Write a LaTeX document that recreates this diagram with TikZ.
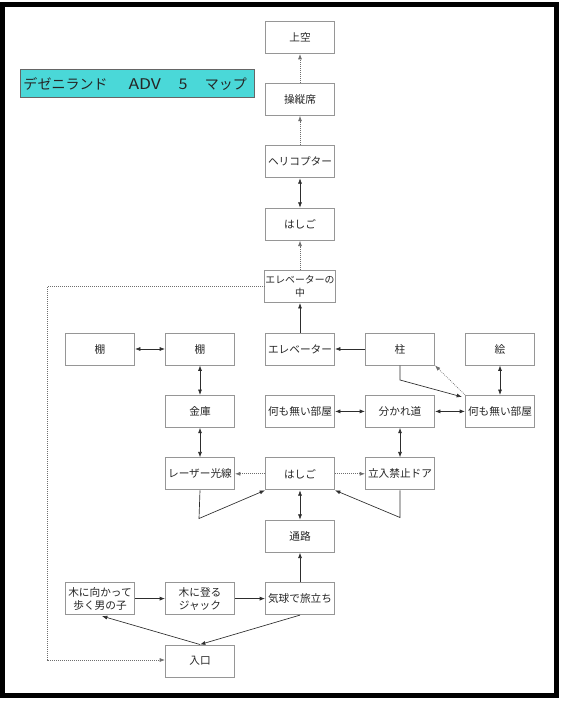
\documentclass[tikz,border=0pt]{standalone}
\usepackage{fontspec}
\usepackage{graphicx}
\setmainfont{Noto Sans CJK JP}
\usetikzlibrary{arrows.meta,calc}
\definecolor{titlecyan}{RGB}{74,216,216}
\definecolor{boxline}{RGB}{150,150,150}
\definecolor{lineclr}{RGB}{45,45,45}
\definecolor{dotclr}{RGB}{110,110,110}
\begin{document}
\begin{tikzpicture}[x=0.75pt,y=-0.75pt,
  room/.style={draw=boxline,line width=0.75pt,fill=white,minimum width=51.75pt,minimum height=24pt,inner sep=0.5pt,align=center,text=black!85,font=\fontsize{8}{9.75}\selectfont},
  conn/.style={draw=lineclr,line width=0.5pt},
  dots/.style={draw=dotclr,line width=0.5pt,dash pattern=on 0.6pt off 0.9pt},
  onearrow/.style={-{Latex[length=4pt,width=3pt]}},
  twoarrow/.style={{Latex[length=4pt,width=3pt]}-{Latex[length=4pt,width=3pt]}},
]
\useasboundingbox (0,0) rectangle (560,702);
% frame
\draw[line width=3.9pt] (2.6,4.6) rectangle (556.4,695.4);
% title
\node[draw=black!60,line width=0.75pt,fill=titlecyan,anchor=west,inner xsep=2.25pt,inner ysep=0pt,minimum height=21pt,text width=171pt,align=left,text=black!85,font=\fontsize{10.5}{12}\selectfont] (title) at (20,84) {デゼニランド\hspace{1.5em}\scalebox{1.25}[1.05]{ADV}\hspace{1.25em}\scalebox{1.15}[1.05]{5}\hspace{1.25em}マップ};
% nodes
\node[room] (sky) at (300,37.5) {上空};
\node[room] (cockpit) at (300,99.4) {操縦席};
\node[room] (heli) at (300,161.8) {ヘリコプター};
\node[room] (ladder1) at (300,224.2) {はしご};
\node[room,font=\fontsize{7.4}{9.75}\selectfont] (inelev) at (300,286.6) {エレベーターの\\中};
\node[room] (shelf1) at (100,349) {棚};
\node[room] (shelf2) at (200,349) {棚};
\node[room] (elev) at (300,349) {エレベーター};
\node[room] (pillar) at (400,349) {柱};
\node[room] (picture) at (500,349) {絵};
\node[room] (safe) at (200,411.4) {金庫};
\node[room] (empty1) at (300,411.4) {何も無い部屋};
\node[room] (fork) at (400,411.4) {分かれ道};
\node[room] (empty2) at (500,411.4) {何も無い部屋};
\node[room] (laser) at (200,473.8) {レーザー光線};
\node[room] (ladder2) at (300,473.8) {はしご};
\node[room] (door) at (400,473.8) {立入禁止ドア};
\node[room] (passage) at (300,536.2) {通路};
\node[room] (boy) at (100,598.6) {木に向かって\\歩く男の子};
\node[room] (jack) at (200,598.6) {木に登る\\ジャック};
\node[room] (balloon) at (300,598.6) {気球で旅立ち};
\node[room] (entrance) at (200,661) {入口};
% bend points
\coordinate (d1) at (47,286.6);
\coordinate (d2) at (47,660);
\coordinate (pc) at (400,380);
\coordinate (lc) at (199,518.5);
\coordinate (dc) at (400,517.5);
% connectors
\draw[dots,onearrow] (cockpit) -- (sky);
\draw[dots,onearrow] (heli) -- (cockpit);
\draw[conn,twoarrow] (ladder1) -- (heli);
\draw[dots,onearrow] (inelev) -- (ladder1);
\draw[conn,onearrow] (elev) -- (inelev);
\draw[dots,onearrow] (inelev.west) -- (d1) -- (d2) -- (entrance.west |- d2);
\draw[conn,twoarrow] (shelf1) -- (shelf2);
\draw[conn,twoarrow] (shelf2) -- (safe);
\draw[conn,onearrow] (pillar) -- (elev);
\draw[conn,twoarrow] (picture) -- (empty2);
\draw[conn,twoarrow] (empty1) -- (fork);
\draw[conn,twoarrow] (fork) -- (empty2);
\draw[conn,onearrow] (pillar.south) -- (pc) -- ($(empty2.north west)+(-3,2)$);
\draw[dots,onearrow] (empty2.north west) -- (pillar.south east);
\draw[conn,twoarrow] (safe) -- (laser);
\draw[conn,twoarrow] (fork) -- (door);
\draw[dots,onearrow] (ladder2) -- (laser);
\draw[dots,onearrow] (ladder2) -- (door);
\draw[conn,onearrow] (laser.south) -- (lc) -- (ladder2.south west);
\draw[conn,onearrow] (door.south) -- (dc) -- (ladder2.south east);
\draw[conn,twoarrow] (ladder2) -- (passage);
\draw[conn,onearrow] (balloon) -- (passage);
\draw[conn,onearrow] (boy) -- (jack);
\draw[conn,onearrow] (jack) -- (balloon);
\draw[conn,onearrow] (entrance.north) -- ($(boy.south)+(2,1)$);
\draw[conn,onearrow] (balloon.south) -- (entrance.north);
\end{tikzpicture}
\end{document}
